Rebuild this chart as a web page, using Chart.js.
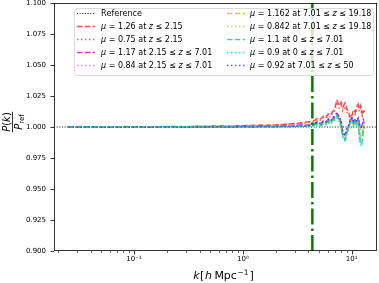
<!DOCTYPE html>
<html><head><meta charset="utf-8">
<script src="https://cdn.jsdelivr.net/npm/chart.js@4"></script>
<style>html,body{margin:0;padding:0;background:#fff}#wrap{width:379px;height:283px}</style>
</head><body><div id="wrap"><canvas id="c" width="379" height="283"></canvas></div>
<script>
// ---- data ----
const kValues = [0.025,0.032,0.041,0.052,0.066,0.085,0.11,0.14,0.18,0.23,0.29,0.37,0.47,0.6,0.76,0.97,1.2,1.5,1.9,2.3,2.7,3.1,3.5,3.9,4.3,
  4.6,4.9,5.2,5.5,5.8,6.1,6.4,6.7,7.0,7.3,7.7,8.0,8.3,8.7,9.0,9.4,9.7,10.1,10.4,10.8,11.1,11.5,11.8,12.1,12.5,12.8,13.1];

const refK = [0.0184, 17.1];
const refValues = [1.0, 1.0];
const kNonlinear = [4.35, 4.35];
const kNonlinearY = [0.9, 1.1];

const mu126 = [1.0000,1.0004,0.9998,1.0003,1.0000,1.0004,0.9999,1.0003,1.0001,1.0005,1.0002,1.0006,1.0004,1.0008,1.0006,1.0010,1.0012,1.0016,1.0014,1.0020,1.0024,1.0030,1.0034,1.0040,1.0045,
  1.0055,1.0075,1.0065,1.0090,1.0080,1.0105,1.0095,1.0125,1.0150,1.0220,1.0170,1.0200,1.0160,1.0195,1.0150,1.0120,1.0070,1.0100,1.0140,1.0120,1.0165,1.0185,1.0150,1.0175,1.0110,1.0140,1.0120];
const mu075 = [0.9998,1.0002,1.0000,0.9997,1.0002,0.9999,1.0003,1.0000,1.0004,1.0001,1.0005,1.0003,1.0007,1.0005,1.0009,1.0008,1.0012,1.0010,1.0016,1.0018,1.0022,1.0026,1.0030,1.0034,1.0040,
  1.0045,1.0060,1.0055,1.0075,1.0070,1.0090,1.0080,1.0110,1.0130,1.0185,1.0150,1.0170,1.0130,1.0165,1.0120,1.0100,1.0050,1.0080,1.0115,1.0100,1.0140,1.0160,1.0125,1.0150,1.0090,1.0120,1.0100];
const mu117 = [1.0001,0.9998,1.0003,1.0000,0.9997,1.0002,1.0000,0.9998,1.0003,1.0000,1.0002,0.9999,1.0004,1.0002,1.0000,1.0005,1.0003,1.0008,1.0006,1.0010,1.0008,1.0014,1.0018,1.0016,1.0024,
  1.0030,1.0045,1.0025,1.0050,1.0040,1.0060,1.0045,1.0070,1.0085,1.0110,1.0080,1.0040,0.9950,0.9930,0.9980,1.0010,1.0050,1.0070,1.0030,1.0060,1.0040,1.0070,1.0020,0.9990,1.0010,1.0050,1.0030];
const mu084 = [0.9999,1.0002,0.9998,1.0001,1.0003,0.9999,1.0002,1.0000,0.9998,1.0002,1.0000,1.0003,1.0000,1.0004,1.0002,1.0001,1.0006,1.0004,1.0008,1.0005,1.0011,1.0009,1.0014,1.0018,1.0020,
  1.0025,1.0035,1.0020,1.0040,1.0030,1.0050,1.0035,1.0060,1.0075,1.0095,1.0065,1.0020,0.9940,0.9920,0.9970,1.0000,1.0040,1.0060,1.0020,1.0050,1.0030,1.0060,1.0000,0.9980,0.9995,1.0040,1.0020];
const mu1162 = [1.0000,0.9997,1.0002,0.9999,1.0001,0.9997,1.0002,0.9999,1.0001,0.9998,1.0003,1.0000,0.9998,1.0003,1.0001,0.9999,1.0004,1.0002,1.0006,1.0003,1.0008,1.0006,1.0010,1.0008,1.0014,
  1.0015,1.0030,1.0010,1.0035,1.0025,1.0045,1.0030,1.0055,1.0070,1.0085,1.0050,1.0000,0.9920,0.9905,0.9950,0.9990,1.0030,1.0055,1.0010,1.0045,1.0020,1.0040,0.9960,0.9920,0.9950,1.0010,1.0000];
const mu0842 = [0.9998,1.0001,0.9999,1.0002,0.9998,1.0001,0.9999,1.0002,0.9998,1.0001,0.9999,1.0002,1.0000,0.9998,1.0003,1.0001,0.9999,1.0004,1.0002,1.0005,1.0004,1.0008,1.0006,1.0011,1.0010,
  1.0010,1.0025,1.0005,1.0030,1.0020,1.0040,1.0025,1.0050,1.0060,1.0075,1.0040,0.9990,0.9910,0.9900,0.9945,0.9985,1.0025,1.0050,1.0005,1.0040,1.0015,1.0035,0.9950,0.9905,0.9935,1.0000,0.9990];
const mu110 = [1.0001,0.9998,1.0002,1.0000,0.9998,1.0003,0.9999,1.0001,0.9998,1.0002,0.9999,1.0001,0.9997,1.0002,0.9999,1.0003,1.0000,1.0004,1.0002,1.0006,1.0004,1.0009,1.0007,1.0012,1.0010,
  1.0020,1.0035,1.0015,1.0040,1.0030,1.0050,1.0035,1.0060,1.0070,1.0090,1.0060,1.0010,0.9930,0.9895,0.9950,0.9995,1.0040,1.0060,1.0015,1.0050,1.0020,1.0030,0.9920,0.9860,0.9880,0.9990,1.0010];
const mu090 = [0.9999,1.0001,0.9997,1.0001,0.9999,0.9997,1.0001,0.9998,1.0000,0.9997,1.0001,0.9998,1.0000,0.9997,1.0001,0.9999,1.0002,0.9999,1.0003,1.0001,1.0005,1.0002,1.0006,1.0004,1.0008,
  1.0010,1.0020,1.0000,1.0025,1.0015,1.0035,1.0020,1.0045,1.0055,1.0075,1.0045,0.9995,0.9920,0.9885,0.9940,0.9985,1.0030,1.0050,1.0005,1.0040,1.0010,1.0020,0.9900,0.9845,0.9860,0.9975,0.9995];
const mu092 = [1.0000,0.9998,1.0001,0.9997,1.0000,0.9998,1.0002,0.9998,1.0001,0.9999,0.9997,1.0001,0.9999,1.0002,0.9998,1.0002,1.0000,1.0003,1.0001,1.0005,1.0003,1.0008,1.0006,1.0010,1.0012,
  1.0030,1.0040,1.0025,1.0050,1.0040,1.0065,1.0050,1.0075,1.0090,1.0115,1.0085,1.0045,0.9955,0.9935,0.9990,1.0020,1.0060,1.0075,1.0040,1.0070,1.0045,1.0075,1.0025,0.9995,1.0015,1.0060,1.0040];

const seriesLabels = ['μ = 1.26 at z ≤ 2.15','μ = 0.75 at z ≤ 2.15','μ = 1.17 at 2.15 ≤ z ≤ 7.01','μ = 0.84 at 2.15 ≤ z ≤ 7.01',
  'μ = 1.162 at 7.01 ≤ z ≤ 19.18','μ = 0.842 at 7.01 ≤ z ≤ 19.18','μ = 1.1 at 0 ≤ z ≤ 7.01','μ = 0.9 at 0 ≤ z ≤ 7.01','μ = 0.92 at 7.01 ≤ z ≤ 50'];
const seriesValues = [mu126, mu075, mu117, mu084, mu1162, mu0842, mu110, mu090, mu092];
const yTickValues = [0.9,0.925,0.95,0.975,1.0,1.025,1.05,1.075,1.1];
const xTickLabels = {'-1':'10⁻¹','0':'10⁰','1':'10¹'};

seriesValues.forEach((s,i)=>{ if(s.length!==kValues.length) throw new Error('len mismatch '+i+': '+s.length+' vs '+kValues.length); });

// ---- styles ----
const DASHED=[5.5,2.4], DOTTED=[1.5,2.5];
const styles = [
  {c:'rgba(255,0,0,0.7)', d:DASHED},
  {c:'rgba(255,30,30,0.7)', d:DOTTED},
  {c:'rgba(175,0,195,0.75)', d:DASHED},
  {c:'rgba(235,120,235,0.9)', d:DOTTED},
  {c:'rgba(205,205,0,0.9)', d:DASHED},
  {c:'rgba(200,200,70,0.85)', d:DOTTED},
  {c:'rgba(0,185,185,0.75)', d:DASHED},
  {c:'rgba(0,225,225,0.9)', d:DOTTED},
  {c:'rgba(20,20,255,0.7)', d:DOTTED}
];

const datasets = [];
datasets.push({label:'Reference', data:refK.map((k,i)=>({x:k,y:refValues[i]})), borderColor:'#000', borderWidth:1,
  borderDash:[1,1.65], order:20, legend:true});
seriesValues.forEach((vals,i)=>{
  datasets.push({label:seriesLabels[i], data:kValues.map((k,j)=>({x:k,y:vals[j]})), borderColor:styles[i].c,
    borderWidth:1.5, borderDash:styles[i].d, order:19-i, legend:true});
});
datasets.push({label:'k_nl', data:kNonlinear.map((k,i)=>({x:k,y:kNonlinearY[i]})), borderColor:'#008000', borderWidth:2.5,
  borderDash:[16,4,2.5,4], order:0, legend:false});

const FONT='"DejaVu Sans"';
function drawRich(ctx, parts, x, y, measureOnly){
  let cx=x;
  for(const p of parts){
    ctx.font=(p.it?'italic ':'')+(p.size)+'px '+FONT;
    const w=ctx.measureText(p.t).width;
    if(!measureOnly) ctx.fillText(p.t, cx, y+(p.dy||0));
    cx+=w+(p.gap||0);
  }
  return cx-x;
}
function labelParts(txt,size){
  const parts=[];
  for(const ch of txt){ parts.push({t:ch, it:(ch==='μ'||ch==='z'), size:size}); }
  return parts;
}

const deco = {
  id:'deco',
  afterDraw(chart){
    const ctx=chart.ctx, a=chart.chartArea, xs=chart.scales.x, ys=chart.scales.y;
    ctx.save();
    ctx.strokeStyle='#000'; ctx.lineWidth=0.8; ctx.setLineDash([]);
    ctx.strokeRect(a.left+0.4, a.top+0.4, a.right-a.left-0.8, a.bottom-a.top-0.8);
    yTickValues.forEach(v=>{ const y=Math.round(ys.getPixelForValue(v))+0.5; ctx.beginPath(); ctx.moveTo(a.left-3.5,y); ctx.lineTo(a.left,y); ctx.stroke(); });
    xs.ticks.forEach(t=>{ const x=Math.round(xs.getPixelForValue(t.value))+0.5; const L=t.major?3.5:2; ctx.lineWidth=t.major?0.8:0.6;
      ctx.beginPath(); ctx.moveTo(x,a.bottom); ctx.lineTo(x,a.bottom+L); ctx.stroke(); });
    ctx.fillStyle='#000'; ctx.textBaseline='alphabetic'; ctx.textAlign='left';
    const xt=[{t:'k',it:true,size:11,gap:0.5},{t:'[',size:11,gap:0.5},{t:'h',it:true,size:11,gap:2.5},{t:'Mpc',size:11,gap:0.5},{t:'−1',size:7.5,dy:-4.5,gap:1},{t:']',size:11}];
    const wt=drawRich(ctx,xt,0,0,true);
    drawRich(ctx,xt,(a.left+a.right)/2+8-wt/2,279);
    ctx.save();
    ctx.translate(12,122); ctx.rotate(-Math.PI/2);
    const num=[{t:'P',it:true,size:10},{t:'(',size:10},{t:'k',it:true,size:10},{t:')',size:10}];
    const den=[{t:'P',it:true,size:10},{t:'ref',size:7,dy:2}];
    const wn=drawRich(ctx,num,0,0,true), wd=drawRich(ctx,den,0,0,true);
    const wl=Math.max(wn,wd)+1;
    drawRich(ctx,num,-wn/2,-2.5);
    drawRich(ctx,den,-wd/2,9.5);
    ctx.lineWidth=0.8; ctx.beginPath(); ctx.moveTo(-wl/2,0.5); ctx.lineTo(wl/2,0.5); ctx.stroke();
    ctx.restore();
    const Lx=74.5,Ly=8.5,Lw=299,Lh=67,r=3;
    ctx.beginPath(); ctx.roundRect(Lx,Ly,Lw,Lh,r); ctx.fillStyle='rgba(255,255,255,0.8)'; ctx.fill();
    ctx.strokeStyle='#d0d0d0'; ctx.lineWidth=0.8; ctx.stroke();
    const items=chart.data.datasets.filter(d=>d.legend);
    const cols=[{hx:77,tx:101},{hx:227,tx:250}], rows=[13.5,26.5,39.5,52.5,65.5];
    items.forEach((d,i)=>{
      const c=cols[Math.floor(i/5)], ry=rows[i%5];
      ctx.strokeStyle=d.borderColor; ctx.lineWidth=d.borderWidth; ctx.setLineDash(d.borderDash);
      ctx.beginPath(); ctx.moveTo(c.hx,ry); ctx.lineTo(c.hx+18,ry); ctx.stroke(); ctx.setLineDash([]);
      ctx.fillStyle='#000'; ctx.textBaseline='middle';
      drawRich(ctx,labelParts(d.label,8),c.tx,ry+0.5);
    });
    ctx.restore();
  }
};

new Chart(document.getElementById('c'),{
  type:'line',
  data:{datasets},
  options:{
    responsive:false, animation:false, devicePixelRatio:1,
    layout:{padding:{left:0,top:3,right:2,bottom:0}},
    elements:{point:{radius:0},line:{tension:0}},
    plugins:{legend:{display:false},tooltip:{enabled:false}},
    scales:{
      x:{type:'logarithmic', min:0.01841, max:17.08,
        grid:{display:false,drawTicks:false}, border:{display:false},
        afterBuildTicks:s=>{ const t=[]; for(let d=-2;d<=1;d++) for(let m=1;m<=9;m++){ const v=m*Math.pow(10,d); if(v>=s.min&&v<=s.max) t.push({value:v,major:m===1}); } s.ticks=t; },
        ticks:{autoSkip:false,maxRotation:0,padding:4,color:'#000',font:{family:'DejaVu Sans',size:7},
          callback:(v,i,t)=> t[i]&&t[i].major ? xTickLabels[String(Math.round(Math.log10(v)))] : ''},
        afterFit:s=>{s.height=32; s.paddingLeft=0; s.paddingRight=0;}
      },
      y:{type:'linear', min:0.9, max:1.1,
        grid:{display:false,drawTicks:false}, border:{display:false},
        afterBuildTicks:s=>{ s.ticks=yTickValues.map(v=>({value:v})); },
        ticks:{padding:8,color:'#000',font:{family:'DejaVu Sans',size:7},callback:v=>Number(v).toFixed(3)},
        afterFit:s=>{s.width=54; s.paddingTop=0; s.paddingBottom=0;}
      }
    }
  },
  plugins:[deco]
});
</script>
</body></html>
